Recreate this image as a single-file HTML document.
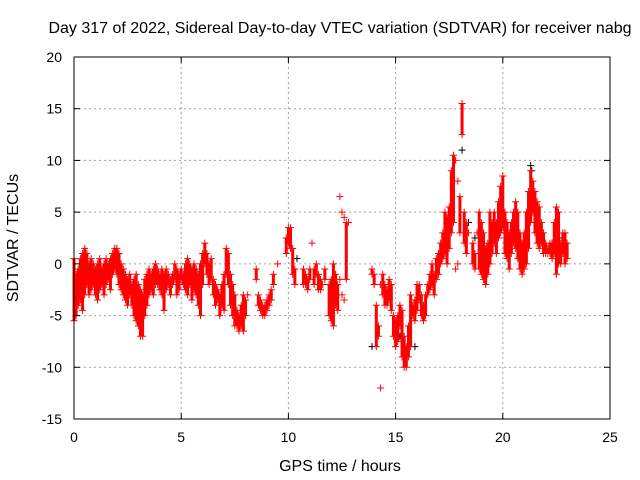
<!DOCTYPE html>
<html><head><meta charset="utf-8"><style>
body{margin:0;background:#fff}
svg{display:block;font-family:"Liberation Sans",sans-serif}
</style></head><body>
<svg id="chart" width="640" height="480" viewBox="0 0 640 480">
<rect width="640" height="480" fill="#fff"/>
<text x="340" y="33" font-size="16" text-anchor="middle">Day 317 of 2022, Sidereal Day-to-day VTEC variation (SDTVAR) for receiver nabg</text>
<text x="340" y="471" font-size="16" text-anchor="middle">GPS time / hours</text>
<text x="0" y="0" font-size="16" text-anchor="middle" transform="translate(18,238) rotate(-90)">SDTVAR / TECUs</text>
<g id="grid"></g><g id="marks"></g><g id="axes"></g>
</svg>
<script>
const xTicks=[0,5,10,15,20,25];
const yTicks=[-15,-10,-5,0,5,10,15,20];
const startT=0, stepT=0.1;
const upper=[0.5,-1,-0.5,0.5,1,1.5,1,0,0.5,0,-0.5,0,0.5,-0.5,0,0.5,0,0.5,1,1.5,1.5,1,0,-0.5,-1,-1.5,-1,-2,-1.5,-1,-2,-2.5,-3,-1.5,-1,-0.5,-1,-0.5,0,-0.5,-1,-0.5,-1,-0.5,-1,-1.5,-1,0,-0.5,-1,-0.5,-1,0,0.5,0,-0.5,0,-0.5,-1,0,1,2,1,0,0.5,-1.5,-2,-2.5,-3,-2,-1,1.5,1,-1,-2,-3,-4.5,-5,-4,-3,-3.5,-3,null,null,null,-0.5,-3,-3.5,-4,-4,-3.5,-3,-2.5,-1,null,0,null,null,null,2.5,3.5,3.5,1.5,-0.5,null,null,null,-0.5,-1,-1.5,-0.5,2,-0.5,0,-1,-1.5,-2,-0.5,null,-2,-1.5,0,-1,-2,6.5,5,4.5,4,4,null,null,null,null,null,null,null,null,null,null,-0.5,-1,-4,-6,-2,-1,-2,-2.5,-1.5,-2,-5,-5.5,-5,-4,-4.5,-7,-8,-6,-3,-4,-3.5,-2,-2,-3,-4,-3,-2,-1,0,-1,0.5,1,2,3,5,4.5,5.5,9,10.5,10,8,6.5,15.5,5,4,3,null,2,1,3,5,4,3,1.5,2,5,4,5,4,6,7.5,8.5,5,4,3,4,5,6,5,3,2,3,5,7,9,8,7,6,5.5,4,3,2,1.5,2,2,4,5.5,5,2,3,3,2];
const lower=[-5.5,-5,-4,-3.5,-4.5,-3,-2,-3,-2.5,-2,-3,-3.5,-2.5,-2,-3,-2,-1.5,-2.5,-1,-0.5,-1,-2,-2.5,-3,-3.5,-4,-3,-4,-5,-5.5,-6,-7,-7,-5,-4,-3,-2.5,-3,-2,-2,-2.5,-3,-4.5,-2.5,-2,-3,-2,-1.5,-3,-2.5,-1.5,-2,-2.5,-3,-2,-3.5,-2.5,-3,-4,-5,-2,0,-1,-2,-1.5,-3,-4,-3.5,-5,-4,-4.5,-1,-2,-4,-5,-6,-6,-6.5,-6,-6.5,-5,null,null,null,null,-1.5,-4,-4.5,-5,-5,-4.5,-4,-3.5,-2,null,null,null,null,null,1,2,1.5,-1,-2,null,null,null,-2,-2,-2.5,-1.5,null,-2,-1,-2.5,-2.5,null,-1.5,null,-5,-5.5,-6,-4,-4.5,-1.5,-3,-3.5,-1.5,null,null,null,null,null,null,null,null,null,null,null,-1,-2,-8,-7,-12,-3,-4,-4,-3.5,-4.5,-7,-8,-7.5,-6,-9,-10,-10,-9,-8,-5,-5.5,-4.5,-3.5,-5,-5.5,-5,-3,-2.5,-2,-3,-1.5,-1,0,0.5,1,0,1.5,3,4,-0.5,0,3,12.5,2,1,null,null,0,-0.5,null,-0.5,-1,-1.5,-2,-1,0,1,2,1,2.5,3,3.5,1,0.5,-0.5,1,2,1.5,0.5,-0.5,-1,-0.5,0,1.5,4,5,3,2,1.5,2,1,1,1,1,0.5,1,-1,0,0,1,0,0.5];
const blackT=[0.1,10.4,13.9,15.2,16.9,18.1,18.4,18.7,21.3,21.35,22.3,22.6,15.9];
const blackV=[-4,0.5,-8,-7,-1,11,4,2.5,9.5,9,2,2.5,-8];
const NS='http://www.w3.org/2000/svg';
const L=74,R=610,T=57,B=419;
const xs=t=>L+(t-0)/25*(R-L);
const ys=v=>B-(v+15)/35*(B-T);
const grid=document.getElementById('grid'),marks=document.getElementById('marks'),axes=document.getElementById('axes');
function mk(tag,a,p){const e=document.createElementNS(NS,tag);for(const k in a)e.setAttribute(k,a[k]);p.appendChild(e);return e;}
xTicks.forEach(t=>{const x=xs(t);
 if(t>0&&t<25){const g=mk('line',{x1:x,y1:T,x2:x,y2:B,stroke:'#a0a0a0','stroke-dasharray':'2,3'},grid);
 
 }
 mk('line',{x1:x,y1:B,x2:x,y2:B-6,stroke:'#000'},axes);mk('line',{x1:x,y1:T,x2:x,y2:T+6,stroke:'#000'},axes);
 const lb=mk('text',{x:x,y:B+23,'font-size':14,'text-anchor':'middle'},axes);lb.textContent=t;
 
 });
yTicks.forEach(v=>{const y=ys(v);
 if(v>-15&&v<20){const g=mk('line',{x1:L,y1:y,x2:R,y2:y,stroke:'#a0a0a0','stroke-dasharray':'2,3'},grid);
 
 }
 mk('line',{x1:L,y1:y,x2:L+6,y2:y,stroke:'#000'},axes);mk('line',{x1:R,y1:y,x2:R-6,y2:y,stroke:'#000'},axes);
 const lb=mk('text',{x:L-12,y:y+5,'font-size':14,'text-anchor':'end'},axes);lb.textContent=v;
 
 });
const box=mk('rect',{x:L,y:T,width:R-L,height:B-T,fill:'none',stroke:'#000'},axes);


function plus(x,y){return 'M'+(x-3.5)+' '+y+'H'+(x+3.5)+'M'+x+' '+(y-3.5)+'V'+(y+3.5);}
let black='';blackT.forEach((t,i)=>{black+=plus(xs(t),ys(blackV[i]));});
const bp=mk('path',{d:black,stroke:'#000',fill:'none','stroke-width':1},marks);


let red='',band='';
upper.forEach((u,i)=>{const t=startT+i*stepT,x=xs(t),lo=lower[i];
 if(u!==null)red+=plus(x,ys(u));
 if(lo!==null)red+=plus(x,ys(lo));
 if(u!==null&&lo!==null&&u-lo<=7){band+='M'+x+' '+ys(u)+'V'+ys(lo);}});
const bd=mk('path',{d:band,stroke:'#f00',fill:'none','stroke-width':3},marks);


const rp=mk('path',{d:red,stroke:'#f00',fill:'none','stroke-width':1},marks);


</script>
</body></html>
